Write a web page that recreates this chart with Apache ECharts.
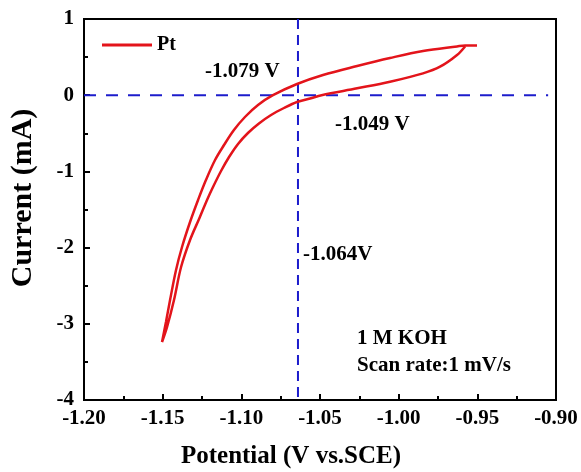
<!DOCTYPE html>
<html>
<head>
<meta charset="utf-8">
<script src="https://cdn.jsdelivr.net/npm/echarts@6/dist/echarts.min.js"></script>
<style>
  html, body { margin: 0; padding: 0; background: #fff; }
  #main { width: 581px; height: 472px; }
</style>
</head>
<body>
<div id="main"></div>
<script>
// CV loop for Pt (V vs SCE, mA)
// outer branch right -> left down to the tip, then inner branch back to the right
const potential = [
  -0.9502, -0.9578, -0.9629, -0.9845, -1.0055, -1.0264, -1.0481, -1.0646, -1.0799,
  -1.0894, -1.0977, -1.1047, -1.1110, -1.1167, -1.1225, -1.1275, -1.1326, -1.1377,
  -1.1415, -1.1453, -1.1479, -1.1504,
  -1.1472, -1.1428, -1.1383, -1.1326, -1.1266, -1.1218, -1.1180, -1.1129, -1.1078,
  -1.1021, -1.0958, -1.0888, -1.0811, -1.0729, -1.0646, -1.0563, -1.0490,
  -1.0264, -1.0055, -0.9845, -0.9737, -0.9629, -0.9578
];
const current = [
  0.652, 0.652, 0.640, 0.580, 0.488, 0.383, 0.265, 0.147, 0.000,
  -0.129, -0.286, -0.457, -0.654, -0.850, -1.113, -1.375, -1.664, -1.992,
  -2.294, -2.688, -2.976, -3.239,
  -3.042, -2.688, -2.255, -1.900, -1.612, -1.375, -1.205, -0.995, -0.811,
  -0.640, -0.496, -0.371, -0.260, -0.168, -0.089, -0.043, 0.000,
  0.090, 0.177, 0.287, 0.374, 0.528, 0.640
];
const onsetV = [-1.064, -1.064];
const onsetI = [1, -4];
const zeroV = [-1.2, -0.905];
const zeroI = [0, 0];
const labels = ['-1.079 V', '-1.049 V', '-1.064V', '1 M KOH', 'Scan rate:1 mV/s'];

const serif = '"Times New Roman", "Liberation Serif", serif';
const chart = echarts.init(document.getElementById('main'));

const cv = potential.map((v, i) => [v, current[i]]);
const vLine = onsetV.map((v, i) => [v, onsetI[i]]);
const hLine = zeroV.map((v, i) => [v, zeroI[i]]);

function txt(text, x, y, size) {
  return {
    type: 'text', x: x, y: y, z: 10,
    style: { text: text, fill: '#000', font: 'bold ' + (size || 21) + 'px ' + serif, verticalAlign: 'middle' }
  };
}

chart.setOption({
  animation: false,
  grid: { left: 84, right: 25, top: 19, bottom: 72, show: true, borderColor: '#000', borderWidth: 2 },
  legend: {
    left: 102, top: 35, padding: 0,
    icon: 'rect', itemWidth: 50, itemHeight: 3, itemGap: 5,
    data: ['Pt'],
    textStyle: { fontFamily: serif, fontWeight: 'bold', fontSize: 20, color: '#000' }
  },
  xAxis: {
    type: 'value', min: -1.2, max: -0.9, interval: 0.05,
    axisLine: { show: true, onZero: false, lineStyle: { color: '#000', width: 2 } },
    axisTick: { show: true, inside: true, length: 6, lineStyle: { color: '#000', width: 2 } },
    minorTick: { show: true, splitNumber: 2, length: 4, lineStyle: { color: '#000', width: 2 } },
    splitLine: { show: false },
    axisLabel: {
      margin: 8, color: '#000', fontFamily: serif, fontWeight: 'bold', fontSize: 21,
      formatter: v => v.toFixed(2)
    }
  },
  yAxis: {
    type: 'value', min: -4, max: 1, interval: 1,
    axisLine: { show: true, onZero: false, lineStyle: { color: '#000', width: 2 } },
    axisTick: { show: true, inside: true, length: 6, lineStyle: { color: '#000', width: 2 } },
    minorTick: { show: true, splitNumber: 2, length: 4, lineStyle: { color: '#000', width: 2 } },
    splitLine: { show: false },
    axisLabel: { margin: 10, color: '#000', fontFamily: serif, fontWeight: 'bold', fontSize: 21 }
  },
  series: [
    {
      name: 'dashV', type: 'line', data: vLine, showSymbol: false, silent: true,
      lineStyle: { color: '#1c1ccc', width: 2, type: [10, 6] }
    },
    {
      name: 'dashH', type: 'line', data: hLine, showSymbol: false, silent: true,
      lineStyle: { color: '#1c1ccc', width: 2, type: [12, 10] }
    },
    {
      name: 'Pt', type: 'line', data: cv, showSymbol: false, smooth: 0.35, z: 5,
      itemStyle: { color: '#e3141b' },
      lineStyle: { color: '#e3141b', width: 2.5 }
    }
  ],
  graphic: [
    txt(labels[0], 205, 72),
    txt(labels[1], 335, 125),
    txt(labels[2], 303, 255),
    txt(labels[3], 357, 339),
    txt(labels[4], 357, 366),
    {
      type: 'text', x: 291, y: 457, z: 10,
      style: { text: 'Potential (V vs.SCE)', fill: '#000', font: 'bold 25px ' + serif, align: 'center', verticalAlign: 'middle' }
    },
    {
      type: 'text', x: 23, y: 198, rotation: Math.PI / 2, z: 10,
      style: { text: 'Current (mA)', fill: '#000', font: 'bold 30px ' + serif, align: 'center', verticalAlign: 'middle' }
    }
  ]
});
</script>
</body>
</html>
